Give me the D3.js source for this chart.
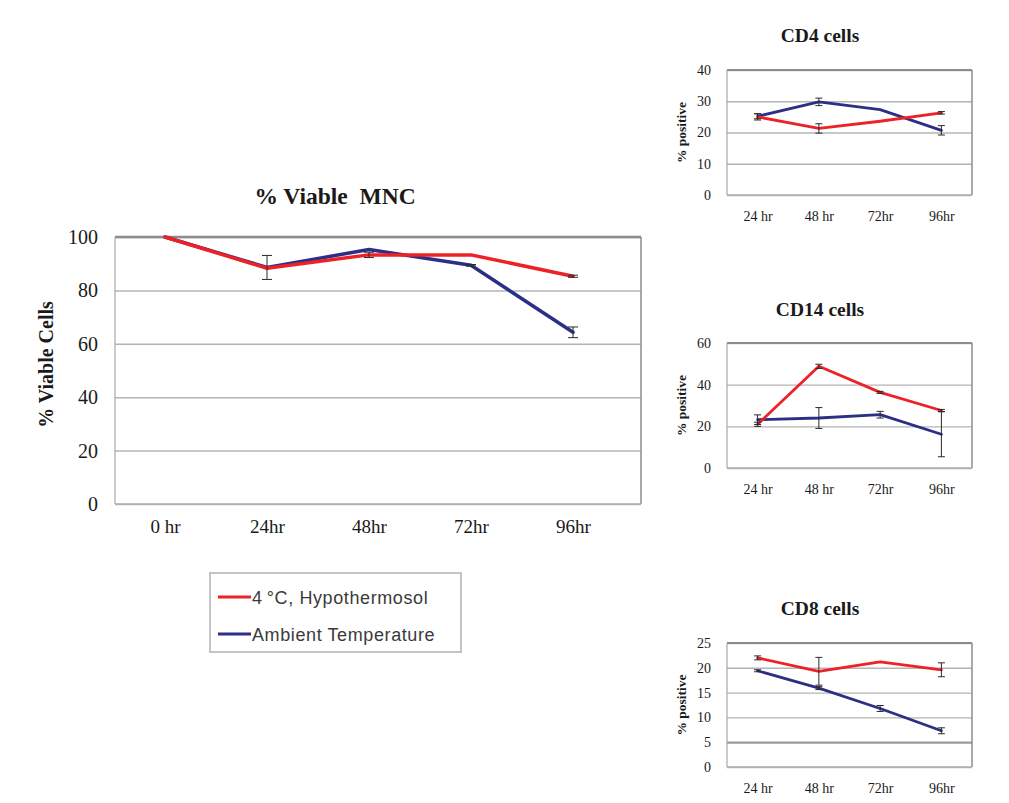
<!DOCTYPE html>
<html>
<head>
<meta charset="utf-8">
<script src="https://cdn.jsdelivr.net/npm/d3@7"></script>
<style>
  html, body { margin: 0; padding: 0; background: #fff; }
  svg { display: block; }
</style>
</head>
<body>
<svg id="fig" width="1009" height="803"></svg>
<script>
// ---- Data -------------------------------------------------------------
const mainHours = ["0 hr", "24hr", "48hr", "72hr", "96hr"];
const viableCold = [100, 88.3, 93.3, 93.3, 85.3];
const viableColdErr = [0, 0, 1.0, 0, 0.4];
const viableAmbient = [100, 88.6, 95.3, 89.4, 64.3];
const viableAmbientErr = [0, 4.5, 0, 0.3, 2.0];
const viableTicks = [0, 20, 40, 60, 80, 100];

const subHours = ["24 hr", "48 hr", "72hr", "96hr"];

const cd4Cold = [25.0, 21.3, 23.6, 26.3];
const cd4ColdErr = [1.0, 1.5, 0, 0.4];
const cd4Ambient = [25.2, 29.8, 27.3, 20.7];
const cd4AmbientErr = [0.8, 1.2, 0, 1.5];
const cd4Ticks = [0, 10, 20, 30, 40];

const cd14Cold = [21.0, 48.8, 36.3, 27.6];
const cd14ColdErr = [1.0, 1.0, 0.5, 0.5];
const cd14Ambient = [23.2, 24.0, 25.6, 16.2];
const cd14AmbientErr = [2.3, 5.0, 1.6, 10.8];
const cd14Ticks = [0, 20, 40, 60];

const cd8Cold = [22.0, 19.3, 21.2, 19.6];
const cd8ColdErr = [0.4, 2.8, 0, 1.4];
const cd8Ambient = [19.4, 15.9, 11.8, 7.3];
const cd8AmbientErr = [0.2, 0.3, 0.6, 0.6];
const cd8Ticks = [0, 5, 10, 15, 20, 25];

const seriesNames = ["4\u2009\u00B0C, Hypothermosol", "Ambient Temperature"];

// ---- Styling -----------------------------------------------------------
const RED = "#ec2227";
const BLUE = "#2c2f86";
const SERIF = "'Liberation Serif', 'Times New Roman', serif";
const SANS = "'Liberation Sans', Arial, sans-serif";

const svg = d3.select("#fig");

// Draws one line chart with two series and error bars.
function drawPanel(cfg) {
  const g = svg.append("g");
  const x = d3.scalePoint().domain(cfg.categories)
    .range([cfg.left + cfg.xInsetL, cfg.right - cfg.xInsetR]);
  const y = d3.scaleLinear().domain([0, d3.max(cfg.ticks)])
    .range([cfg.bottom, cfg.top]);

  // horizontal gridlines
  const yAxis = d3.axisLeft(y).tickValues(cfg.ticks)
    .tickSize(-(cfg.right - cfg.left)).tickPadding(cfg.tickPad);
  const ya = g.append("g").attr("transform", `translate(${cfg.left},0)`).call(yAxis);
  ya.select(".domain").remove();
  ya.selectAll(".tick line")
    .attr("stroke", d => d === cfg.darkTick ? "#9a9a9a" : "#b4b4b4")
    .attr("stroke-width", d => d === cfg.darkTick ? 2.2 : cfg.gridWidth);
  ya.selectAll(".tick text")
    .attr("font-family", SERIF).attr("font-size", cfg.tickFont)
    .attr("fill", "#1a1a1a");

  // plot frame
  g.append("line").attr("x1", cfg.left).attr("x2", cfg.right)
    .attr("y1", cfg.top).attr("y2", cfg.top)
    .attr("stroke", "#8c8c8c").attr("stroke-width", cfg.frameTop);
  g.append("line").attr("x1", cfg.right).attr("x2", cfg.right)
    .attr("y1", cfg.top).attr("y2", cfg.bottom)
    .attr("stroke", "#8c8c8c").attr("stroke-width", 1.5);
  g.append("line").attr("x1", cfg.left).attr("x2", cfg.right)
    .attr("y1", cfg.bottom).attr("y2", cfg.bottom)
    .attr("stroke", "#b0b0b0").attr("stroke-width", 1.5);
  g.append("line").attr("x1", cfg.left).attr("x2", cfg.left)
    .attr("y1", cfg.top).attr("y2", cfg.bottom)
    .attr("stroke", "#a8a8a8").attr("stroke-width", 1.2);

  // category labels
  const xAxis = d3.axisBottom(x).tickSize(0).tickPadding(cfg.xLabelPad);
  const xa = g.append("g").attr("transform", `translate(0,${cfg.bottom})`).call(xAxis);
  xa.select(".domain").remove();
  xa.selectAll(".tick text")
    .attr("font-family", SERIF).attr("font-size", cfg.xFont)
    .attr("fill", "#1a1a1a");

  // series lines
  const line = d3.line().x((d, i) => x(cfg.categories[i])).y(d => y(d));
  const series = [
    { vals: cfg.ambient, err: cfg.ambientErr, color: BLUE },
    { vals: cfg.cold, err: cfg.coldErr, color: RED }
  ];
  series.forEach(s => {
    g.append("path").datum(s.vals).attr("d", line)
      .attr("fill", "none").attr("stroke", s.color)
      .attr("stroke-width", cfg.lineWidth)
      .attr("stroke-linejoin", "round").attr("stroke-linecap", "round");
  });

  // error bars
  series.forEach(s => {
    const eb = g.append("g").attr("stroke", "#2a2a2a").attr("stroke-width", 1);
    s.vals.forEach((v, i) => {
      const e = s.err[i];
      if (!e) return;
      const cx = x(cfg.categories[i]);
      eb.append("line").attr("x1", cx).attr("x2", cx)
        .attr("y1", y(v + e)).attr("y2", y(v - e));
      [v + e, v - e].forEach(w => {
        eb.append("line").attr("x1", cx - cfg.cap).attr("x2", cx + cfg.cap)
          .attr("y1", y(w)).attr("y2", y(w));
      });
    });
  });

  // titles
  g.append("text").attr("x", cfg.titleX).attr("y", cfg.titleY)
    .attr("text-anchor", "middle").attr("font-family", SERIF)
    .attr("font-weight", "bold").attr("font-size", cfg.titleFont)
    .attr("fill", "#1a1a1a").attr("xml:space", "preserve")
    .text(cfg.title);
  g.append("text")
    .attr("transform", `translate(${cfg.yTitleX},${(cfg.top + cfg.bottom) / 2 + cfg.yTitleShift}) rotate(-90)`)
    .attr("text-anchor", "middle").attr("font-family", SERIF)
    .attr("font-weight", "bold").attr("font-size", cfg.yTitleFont)
    .attr("fill", "#1a1a1a")
    .text(cfg.yTitle);
  return { x, y };
}

// ---- Main chart: % viable MNC ---------------------------------------
drawPanel({
  categories: mainHours, cold: viableCold, coldErr: viableColdErr,
  ambient: viableAmbient, ambientErr: viableAmbientErr, ticks: viableTicks,
  left: 115, right: 641, top: 237, bottom: 504, xInsetL: 50, xInsetR: 68,
  tickPad: 17, tickFont: 20, xFont: 19, xLabelPad: 16, gridWidth: 1.5,
  frameTop: 2.5, lineWidth: 3.5, cap: 5,
  title: "% Viable  MNC", titleX: 335, titleY: 204, titleFont: 23.5,
  yTitle: "% Viable Cells", yTitleX: 53, yTitleShift: -6, yTitleFont: 20
});

// ---- Subset charts -------------------------------------------------
const subCommon = {
  left: 727, right: 972, xInsetL: 30.6, xInsetR: 30.6,
  tickPad: 16, tickFont: 14, xFont: 14, xLabelPad: 16, gridWidth: 1.4,
  frameTop: 1.8, lineWidth: 2.8, cap: 3.5,
  titleX: 820, titleFont: 19.5, yTitle: "% positive", yTitleX: 686,
  yTitleShift: 0, yTitleFont: 13.5
};

drawPanel(Object.assign({}, subCommon, {
  categories: subHours, cold: cd4Cold, coldErr: cd4ColdErr,
  ambient: cd4Ambient, ambientErr: cd4AmbientErr, ticks: cd4Ticks,
  top: 70, bottom: 195, title: "CD4 cells", titleY: 42
}));

drawPanel(Object.assign({}, subCommon, {
  categories: subHours, cold: cd14Cold, coldErr: cd14ColdErr,
  ambient: cd14Ambient, ambientErr: cd14AmbientErr, ticks: cd14Ticks,
  top: 343, bottom: 468, title: "CD14 cells", titleY: 316
}));

drawPanel(Object.assign({}, subCommon, {
  categories: subHours, cold: cd8Cold, coldErr: cd8ColdErr,
  ambient: cd8Ambient, ambientErr: cd8AmbientErr, ticks: cd8Ticks,
  top: 643, bottom: 767, title: "CD8 cells", titleY: 615, darkTick: 5
}));

// ---- Legend -------------------------------------------------------------
const legend = svg.append("g").attr("transform", "translate(210,573)");
legend.append("rect").attr("x", 0).attr("y", 0).attr("width", 251).attr("height", 79)
  .attr("fill", "#fff").attr("stroke", "#c4c4c4").attr("stroke-width", 2);
[RED, BLUE].forEach((c, i) => {
  const yy = 24 + i * 37;
  legend.append("line").attr("x1", 8).attr("x2", 41).attr("y1", yy).attr("y2", yy)
    .attr("stroke", c).attr("stroke-width", 3);
  legend.append("text").attr("x", 42).attr("y", yy + 6.5)
    .attr("font-family", SANS).attr("font-size", 18).attr("fill", "#3a3a3a")
    .attr("letter-spacing", 0.6)
    .text(seriesNames[i]);
});
</script>
</body>
</html>
